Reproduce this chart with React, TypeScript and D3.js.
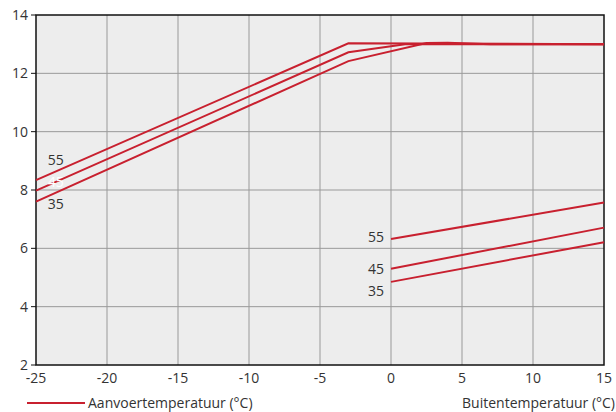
import React from "react";
import * as d3 from "d3";

type Pt = [number, number];

const xTicks = [-25, -20, -15, -10, -5, 0, 5, 10, 15];
const yTicks = [2, 4, 6, 8, 10, 12, 14];

const upper55: Pt[] = [[-25, 8.34], [-3, 13.03], [15, 13.0]];
const upper45: Pt[] = [[-25, 7.98], [-3, 12.72], [1, 13.0], [15, 13.0]];
const upper35: Pt[] = [[-25, 7.6], [-3, 12.42], [2.5, 13.04], [4, 13.05], [7, 13.0], [15, 13.0]];
const lower55: Pt[] = [[0, 6.32], [15, 7.57]];
const lower45: Pt[] = [[0, 5.3], [15, 6.71]];
const lower35: Pt[] = [[0, 4.85], [15, 6.21]];

const seriesLabels = ["55", "45", "35"];
const legendLabel = "Aanvoertemperatuur (°C)";
const xAxisLabel = "Buitentemperatuur (°C)";

const W = 616, H = 412;
const RED = "#c8202f";

export default function App() {
  const x = d3.scaleLinear().domain([-25, 15]).range([36, 604]);
  const y = d3.scaleLinear().domain([2, 14]).range([365, 15]);
  const line = d3.line<Pt>().x(d => x(d[0])).y(d => y(d[1]));
  const font = "'Open Sans', 'Noto Sans', sans-serif";
  const upper = [upper55, upper45, upper35];
  const lower = [lower55, lower45, lower35];
  const lowerOffsets = [-2, 0, 9];
  return (
    <svg width={W} height={H} style={{ position: "absolute", left: 0, top: 0 }} fontFamily={font}>
      <rect x={x(-25)} y={y(14)} width={x(15) - x(-25)} height={y(2) - y(14)} fill="#ededed" />
      {xTicks.slice(1, -1).map(t => (
        <line key={"gx" + t} x1={x(t)} x2={x(t)} y1={y(14)} y2={y(2)} stroke="#999" strokeWidth={1} />
      ))}
      {yTicks.slice(1, -1).map(t => (
        <line key={"gy" + t} x1={x(-25)} x2={x(15)} y1={y(t)} y2={y(t)} stroke="#999" strokeWidth={1} />
      ))}
      <rect x={x(-25)} y={y(14)} width={x(15) - x(-25)} height={y(2) - y(14)} fill="none" stroke="#111" strokeWidth={1.5} />
      {yTicks.map(t => (
        <g key={"ty" + t}>
          <line x1={x(-25) - 5} x2={x(-25)} y1={y(t)} y2={y(t)} stroke="#111" />
          <text x={x(-25) - 8} y={y(t)} dy="0.35em" textAnchor="end" fontSize={14} fill="#333">{t}</text>
        </g>
      ))}
      {xTicks.map(t => (
        <text key={"tx" + t} x={x(t)} y={y(2) + 18} textAnchor="middle" fontSize={14} fill="#333">{t}</text>
      ))}
      {upper.map((d, i) => (
        <path key={"u" + i} d={line(d) || ""} fill="none" stroke={RED} strokeWidth={2} />
      ))}
      {lower.map((d, i) => (
        <path key={"l" + i} d={line(d) || ""} fill="none" stroke={RED} strokeWidth={2} />
      ))}
      <text x={x(-23.6)} y={y(upper55[0][1]) - 20} textAnchor="middle" dy="0.35em" fontSize={14} fill="#333">{seriesLabels[0]}</text>
      <text x={x(-23.6)} y={y(upper45[0][1]) - 8} textAnchor="middle" dy="0.35em" fontSize={14} fill="#fff">{seriesLabels[1]}</text>
      <text x={x(-23.6)} y={y(upper35[0][1]) + 2} textAnchor="middle" dy="0.35em" fontSize={14} fill="#333">{seriesLabels[2]}</text>
      {lower.map((d, i) => (
        <text key={"ll" + i} x={x(0) - 7} y={y(d[0][1]) + lowerOffsets[i]} textAnchor="end" dy="0.35em" fontSize={14} fill="#333">{seriesLabels[i]}</text>
      ))}
      <line x1={27} x2={85} y1={403} y2={403} stroke={RED} strokeWidth={2} />
      <text x={88} y={403} dy="0.35em" fontSize={14} fill="#333">{legendLabel}</text>
      <text x={615} y={403} dy="0.35em" textAnchor="end" fontSize={14} fill="#333">{xAxisLabel}</text>
    </svg>
  );
}
